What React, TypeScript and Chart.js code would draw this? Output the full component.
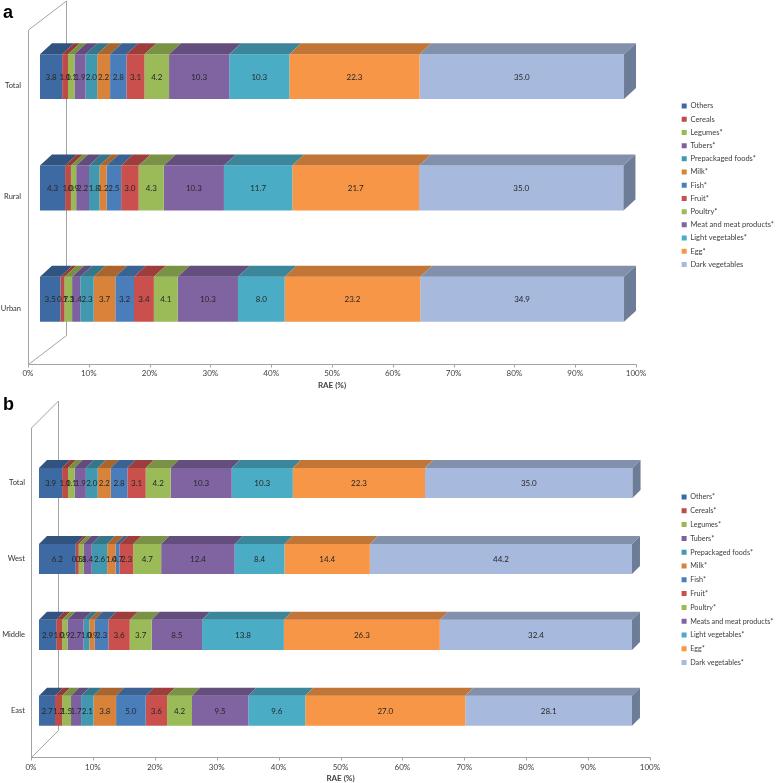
import React, { useEffect, useRef } from "react";
import { Chart, registerables } from "chart.js";

Chart.register(...registerables);
Chart.defaults.font.family = "Lato, 'Liberation Sans', sans-serif";

// ---------- data ----------
const seriesA = [
  "Others", "Cereals", "Legumes*", "Tubers*", "Prepackaged foods*", "Milk*", "Fish*",
  "Fruit*", "Poultry*", "Meat and meat products*", "Light vegetables*", "Egg*", "Dark vegetables",
];
const categoriesA = ["Total", "Rural", "Urban"];
const totalA = [3.8, 1.0, 1.1, 1.9, 2.0, 2.2, 2.8, 3.1, 4.2, 10.3, 10.3, 22.3, 35.0];
const ruralA = [4.3, 1.0, 0.9, 2.2, 1.8, 1.2, 2.5, 3.0, 4.3, 10.3, 11.7, 21.7, 35.0];
const urbanA = [3.5, 0.7, 1.3, 1.4, 2.3, 3.7, 3.2, 3.4, 4.1, 10.3, 8.0, 23.2, 34.9];

const seriesB = [
  "Others*", "Cereals*", "Legumes*", "Tubers*", "Prepackaged foods*", "Milk*", "Fish*",
  "Fruit*", "Poultry*", "Meats and meat products*", "Light vegetables*", "Egg*", "Dark vegetables*",
];
const categoriesB = ["Total", "West", "Middle", "East"];
const totalB = [3.9, 1.0, 1.1, 1.9, 2.0, 2.2, 2.8, 3.1, 4.2, 10.3, 10.3, 22.3, 35.0];
const westB = [6.2, 0.5, 0.8, 1.4, 2.6, 1.4, 0.7, 2.3, 4.7, 12.4, 8.4, 14.4, 44.2];
const middleB = [2.9, 1.0, 0.9, 2.7, 1.0, 0.9, 2.3, 3.6, 3.7, 8.5, 13.8, 26.3, 32.4];
const eastB = [2.7, 1.2, 1.5, 1.7, 2.1, 3.8, 5.0, 3.6, 4.2, 9.5, 9.6, 27.0, 28.1];

const xTicks = [0, 10, 20, 30, 40, 50, 60, 70, 80, 90, 100];
const axisTitle = "RAE (%)";

// ---------- styles ----------
const seriesColors = [
  "#3D6AA3", "#BE4B48", "#98B954", "#7D60A0", "#4198AF", "#D9823A", "#4A7EBB",
  "#C9504D", "#9BBB59", "#8064A2", "#4BACC6", "#F79646", "#A7B9DC",
];
const sideColor = "#6E7D97";

function darken(hex: string, f: number) {
  const n = parseInt(hex.slice(1), 16);
  const r = Math.round(((n >> 16) & 255) * f);
  const g = Math.round(((n >> 8) & 255) * f);
  const b = Math.round((n & 255) * f);
  return `rgb(${r},${g},${b})`;
}

type PanelCfg = {
  letter: string;
  categories: string[];
  series: string[];
  rows: number[][];
  height: number;
  padTop: number;
  padBottom: number;
  yWidth: number;
  yLabelPad: number;
  gapRight: number;
  barMin: number;
  barMax: number;
  catPct: number;
  dx: number;
  dy: number;
  floorOff: number;
  wallTop: number;
  wx: number;
  wy: number;
  labelOffset: number;
  legendTitlePad: number;
  legendPad: number;
  legendFont: number;
  legendMaxWidth: number;
  tickPad: number;
  titlePadTop: number;
};

const panelA: PanelCfg = {
  letter: "a",
  categories: categoriesA,
  series: seriesA,
  rows: [totalA, ruralA, urbanA],
  height: 392,
  padTop: 21,
  padBottom: 2,
  yWidth: 28,
  yLabelPad: 7,
  gapRight: 40,
  barMin: -2.05,
  barMax: 102.05,
  catPct: 0.404,
  dx: 12,
  dy: 11,
  floorOff: 9,
  wallTop: 30,
  wx: 38,
  wy: 29,
  labelOffset: 9,
  legendTitlePad: 66,
  legendPad: 5.7,
  legendFont: 7.5,
  legendMaxWidth: 102,
  tickPad: 14,
  titlePadTop: -12,
};

const panelB: PanelCfg = {
  letter: "b",
  categories: categoriesB,
  series: seriesB,
  rows: [totalB, westB, middleB, eastB],
  height: 391,
  padTop: 53,
  padBottom: 0,
  yWidth: 31,
  yLabelPad: 6,
  gapRight: 25,
  barMin: -1.35,
  barMax: 103.04,
  catPct: 0.395,
  dx: 8,
  dy: 8,
  floorOff: 8,
  wallTop: 36,
  wx: 27,
  wy: 27,
  labelOffset: 0,
  legendTitlePad: 32.2,
  legendPad: 6.6,
  legendFont: 7.2,
  legendMaxWidth: 103,
  tickPad: 14,
  titlePadTop: -13,
};

function make3D(cfg: PanelCfg) {
  return {
    id: "threeD",
    beforeDatasetsDraw(chart: any) {
      const ctx = chart.ctx;
      const xs = chart.scales.xAxis;
      const ca = chart.chartArea;
      const L = Math.round(xs.getPixelForValue(0)) + 0.5;
      const R = Math.round(xs.getPixelForValue(100)) + 0.5;
      const fy = Math.round(ca.bottom + cfg.floorOff) + 0.5;
      ctx.save();
      ctx.strokeStyle = "#A3A3A3";
      ctx.lineWidth = 1;
      ctx.beginPath();
      ctx.moveTo(L, fy);
      ctx.lineTo(L, cfg.wallTop);
      ctx.lineTo(L + cfg.wx, cfg.wallTop - cfg.wy);
      ctx.moveTo(L + cfg.wx, cfg.wallTop - cfg.wy);
      ctx.lineTo(L + cfg.wx, fy - cfg.wy);
      ctx.moveTo(L, fy);
      ctx.lineTo(L + cfg.wx, fy - cfg.wy);
      ctx.moveTo(L, fy);
      ctx.lineTo(R, fy);
      xTicks.forEach((v) => {
        const px = Math.round(xs.getPixelForValue(v)) + 0.5;
        ctx.moveTo(px, fy);
        ctx.lineTo(px, fy + 3);
      });
      ctx.stroke();
      ctx.restore();
    },
    afterDatasetsDraw(chart: any) {
      const ctx = chart.ctx;
      const n = chart.data.datasets.length;
      ctx.save();
      for (let d = 0; d < n; d++) {
        const meta = chart.getDatasetMeta(d);
        meta.data.forEach((el: any) => {
          const { x, y, base, height } = el.getProps(["x", "y", "base", "height"], true);
          const top = y - height / 2;
          const bottom = y + height / 2;
          const left = Math.min(base, x);
          const right = Math.max(base, x);
          ctx.fillStyle = darken(seriesColors[d], 0.78);
          ctx.beginPath();
          ctx.moveTo(left, top);
          ctx.lineTo(right, top);
          ctx.lineTo(right + cfg.dx, top - cfg.dy);
          ctx.lineTo(left + cfg.dx, top - cfg.dy);
          ctx.closePath();
          ctx.fill();
          if (d === n - 1) {
            ctx.fillStyle = sideColor;
            ctx.beginPath();
            ctx.moveTo(right, top);
            ctx.lineTo(right + cfg.dx, top - cfg.dy);
            ctx.lineTo(right + cfg.dx, bottom - cfg.dy);
            ctx.lineTo(right, bottom);
            ctx.closePath();
            ctx.fill();
          }
        });
      }
      ctx.font = "8px Lato, 'Liberation Sans', sans-serif";
      ctx.fillStyle = "#262626";
      ctx.textAlign = "center";
      ctx.textBaseline = "middle";
      for (let d = 0; d < n; d++) {
        const meta = chart.getDatasetMeta(d);
        const ds = chart.data.datasets[d];
        meta.data.forEach((el: any, i: number) => {
          const { x, y, base } = el.getProps(["x", "y", "base"], true);
          const v = ds.data[i] as number;
          ctx.fillText(v.toFixed(1), (x + base) / 2, y + 0.5);
        });
      }
      ctx.restore();
    },
  };
}

function Panel({ cfg }: { cfg: PanelCfg }) {
  const ref = useRef<HTMLCanvasElement>(null);
  useEffect(() => {
    const canvas = ref.current!;
    const datasets = cfg.series.map((name, i) => ({
      label: name,
      data: cfg.rows.map((r) => r[i]),
      backgroundColor: seriesColors[i],
      borderWidth: 0,
      barPercentage: 1,
      categoryPercentage: cfg.catPct,
      xAxisID: "x",
      yAxisID: "y",
    }));
    const chart = new Chart(canvas, {
      type: "bar",
      data: { labels: cfg.categories, datasets },
      options: {
        indexAxis: "y",
        responsive: false,
        animation: false,
        layout: { padding: { top: cfg.padTop, bottom: cfg.padBottom, left: 0, right: 0 } },
        scales: {
          x: {
            type: "linear",
            stacked: true,
            min: cfg.barMin,
            max: cfg.barMax,
            display: false,
          },
          xAxis: {
            type: "linear",
            axis: "x",
            position: "bottom",
            min: 0,
            max: 100,
            afterBuildTicks: (s: any) => {
              s.ticks = xTicks.map((v) => ({ value: v }));
            },
            ticks: {
              callback: (v: any) => `${v}%`,
              font: { size: 8 },
              color: "#404040",
              padding: cfg.tickPad,
              maxRotation: 0,
              autoSkip: false,
            },
            grid: { display: false, drawTicks: false },
            border: { display: false },
            title: {
              display: true,
              text: axisTitle,
              font: { size: 8, weight: "bold" },
              color: "#404040",
              padding: { top: cfg.titlePadTop, bottom: 0 },
            },
          },
          y: {
            type: "category",
            stacked: true,
            position: "left",
            grid: { display: false, drawTicks: false },
            border: { display: false },
            ticks: {
              font: { size: 7.5 },
              color: "#333333",
              padding: cfg.yLabelPad,
              labelOffset: cfg.labelOffset,
            },
            afterFit: (s: any) => {
              s.width = cfg.yWidth;
            },
          },
          yPad: {
            type: "linear",
            axis: "y",
            position: "right",
            min: 0,
            max: 1,
            display: true,
            grid: { display: false, drawTicks: false },
            border: { display: false },
            ticks: { display: false },
            afterFit: (s: any) => {
              s.width = cfg.gapRight;
            },
          },
        } as any,
        plugins: {
          legend: {
            position: "right",
            align: "start",
            fullSize: false,
            maxWidth: cfg.legendMaxWidth,
            title: {
              display: true,
              text: "",
              padding: { top: 0, bottom: cfg.legendTitlePad },
              font: { size: 8 },
            },
            labels: {
              boxWidth: 5,
              boxHeight: 5,
              padding: cfg.legendPad,
              font: { size: cfg.legendFont },
              color: "#404040",
            },
          },
          tooltip: { enabled: false },
        } as any,
      },
      plugins: [make3D(cfg)],
    } as any);
    return () => chart.destroy();
  }, [cfg]);
  return (
    <div style={{ position: "relative", width: 778, height: cfg.height }}>
      <canvas ref={ref} width={778} height={cfg.height} style={{ display: "block" }} />
      <div
        style={{
          position: "absolute",
          left: 3,
          top: 2,
          fontFamily: "'Liberation Sans', Arial, sans-serif",
          fontWeight: "bold",
          fontSize: 18,
          lineHeight: "normal",
          color: "#000",
        }}
      >
        {cfg.letter}
      </div>
    </div>
  );
}

export default function App() {
  return (
    <div style={{ position: "absolute", left: 0, top: 0, width: 778, height: 783, background: "#fff" }}>
      <Panel cfg={panelA} />
      <Panel cfg={panelB} />
    </div>
  );
}
